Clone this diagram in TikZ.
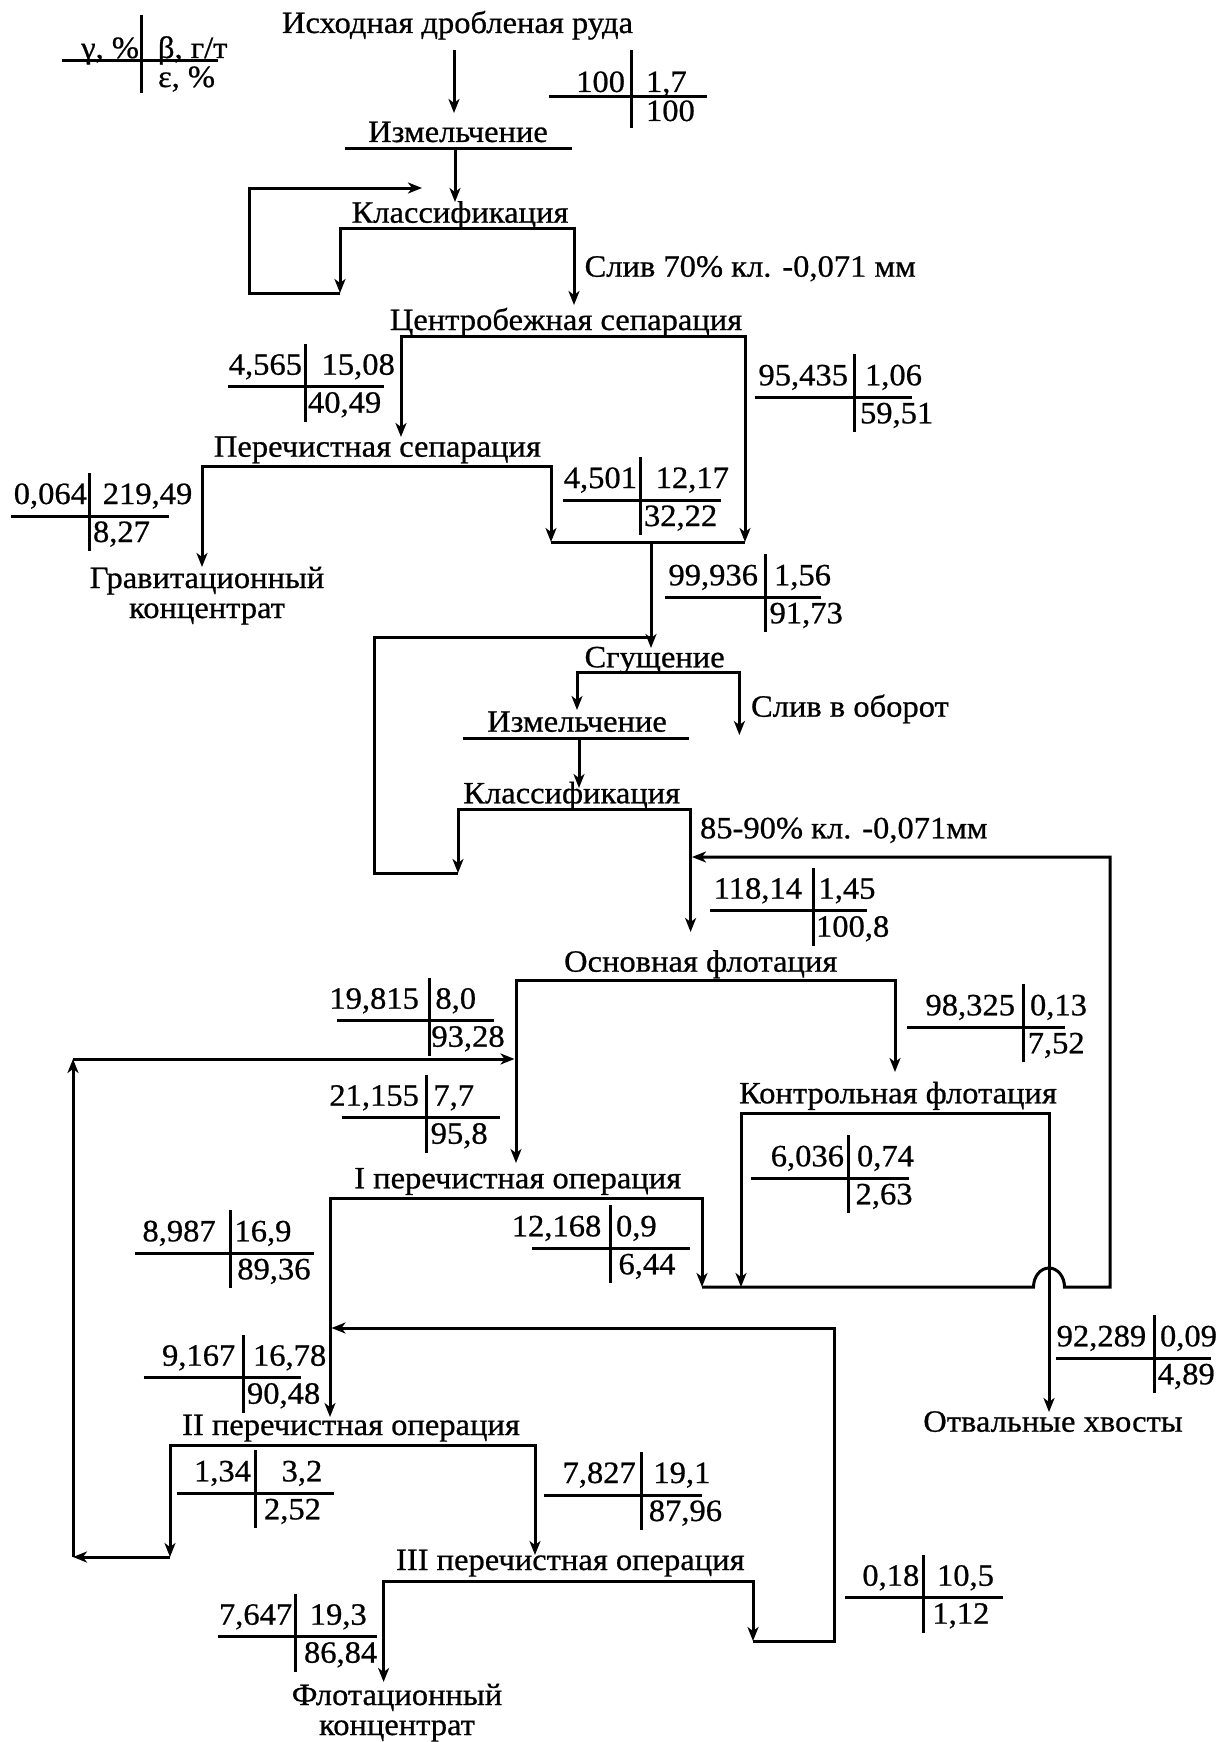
\documentclass[tikz,border=0pt]{standalone}
\usepackage{fontspec}
\setmainfont{Liberation Serif}[FakeStretch=1.05,FakeBold=0.7]
\usetikzlibrary{arrows.meta}
\tikzset{
  ln/.style={line width=3pt},
  flow/.style={ln,-{Stealth[length=14pt,width=11pt,inset=4pt]}},
  both/.style={ln,{Stealth[length=14pt,width=11pt,inset=4pt]}-{Stealth[length=14pt,width=11pt,inset=4pt]}},
  lbl/.style={inner sep=0pt,outer sep=0pt,font=\fontsize{31}{31}\selectfont},
}
\newcounter{tbn}
\newcommand\tb[9]{\stepcounter{tbn}%
  \def\tbxv{#1}\def\tbyh{#2}\def\tbxa{#3}\def\tbxb{#4}%
  \def\tbtlx{#5}\def\tbtl{#6}\def\tbtrx{#7}\def\tbtr{#8}\def\tbbx{#9}\tbfin}
\newcommand\tbfin[1]{%
  \edef\tbname{tb\arabic{tbn}}%
  \draw[ln] (\tbxv,\tbyh-43) -- (\tbxv,\tbyh+35);
  \draw[ln] (\tbxa,\tbyh) -- (\tbxb,\tbyh);
  \node[lbl,anchor=base east] (\tbname a) at (\tbtlx,\tbyh-12) {\tbtl};
  \node[lbl,anchor=base west] (\tbname b) at (\tbtrx,\tbyh-12) {\tbtr};
  \node[lbl,anchor=base west] (\tbname c) at (\tbbx,\tbyh+26) {#1};
}
\begin{document}
\begin{tikzpicture}[x=1pt,y=-1pt,font=\fontsize{31}{31}\selectfont]
\useasboundingbox (0,0) rectangle (1229,1742);
% legend
\draw[ln] (141,15) -- (141,93);
\draw[ln] (62,61) -- (218,61);
\node[lbl,anchor=base east] (lgA) at (139,58) {γ, \%};
\node[lbl,anchor=base west] (lgB) at (158,58) {β, г/т};
\node[lbl,anchor=base west] (lgC) at (158,87) {ε, \%};
% feed table
\draw[ln] (631,50) -- (631,128);
\draw[ln] (549,96.7) -- (707,96.7);
\node[lbl,anchor=base east] (f100a) at (625,92) {100};
\node[lbl,anchor=base west] (f100b) at (646,92) {1,7};
\node[lbl,anchor=base west] (f100c) at (646,121) {100};
% labels
\node[lbl,anchor=base] (feed) at (457.5,33) {Исходная дробленая руда};
\node[lbl,anchor=base] (izm1) at (458,142) {Измельчение};
\node[lbl,anchor=base] (kl1) at (460,222.7) {Классификация};
\node[lbl,anchor=base west] (sliv1) at (584.6,276.7) {Слив 70\% кл. -0,071 мм};
\node[lbl,anchor=base] (cs) at (566,330) {Центробежная сепарация};
\node[lbl,anchor=base] (ps) at (377.4,456.7) {Перечистная сепарация};
\node[lbl,anchor=base] (gk1) at (207,588) {Гравитационный};
\node[lbl,anchor=base] (gk2) at (207,618) {концентрат};
\node[lbl,anchor=base] (sg) at (654.6,667.3) {Сгущение};
\node[lbl,anchor=base west] (sliv2) at (751,716.7) {Слив в оборот};
\node[lbl,anchor=base] (izm2) at (577,731.7) {Измельчение};
\node[lbl,anchor=base] (kl2) at (571.7,803.3) {Классификация};
\node[lbl,anchor=base west] (cls) at (700,838.3) {85-90\% кл. -0,071мм};
\node[lbl,anchor=base] (of) at (700.7,971.7) {Основная флотация};
\node[lbl,anchor=base] (kf) at (898,1103.3) {Контрольная флотация};
\node[lbl,anchor=base] (p1) at (517.7,1188.3) {I перечистная операция};
\node[lbl,anchor=base] (p2) at (351,1435) {II перечистная операция};
\node[lbl,anchor=base] (p3) at (570.3,1570) {III перечистная операция};
\node[lbl,anchor=base] (tail) at (1053,1431.7) {Отвальные хвосты};
\node[lbl,anchor=base] (fk1) at (397,1705) {Флотационный};
\node[lbl,anchor=base] (fk2) at (397,1735) {концентрат};
% tables
\tb{305}{386.7}{227.5}{384}{302}{4,565}{321.6}{15,08}{308}{40,49}
\tb{854}{397.3}{754.8}{912}{848}{95,435}{865}{1,06}{860}{59,51}
\tb{89.4}{516}{11}{168.6}{87}{0,064}{102.8}{219,49}{93}{8,27}
\tb{640.9}{500}{562.8}{720.8}{637}{4,501}{655.7}{12,17}{644}{32,22}
\tb{765}{597.3}{665}{820.8}{758}{99,936}{774}{1,56}{769.6}{91,73}
\tb{813.8}{910.7}{710}{867}{802}{118,14}{818.5}{1,45}{816}{100,8}
\tb{429.5}{1020.7}{336.5}{494}{418.9}{19,815}{435.4}{8,0}{431.4}{93,28}
\tb{426.7}{1117.7}{342}{500}{418.9}{21,155}{433.4}{7,7}{430.7}{95,8}
\tb{1023}{1027.3}{906.8}{1064.8}{1015}{98,325}{1030}{0,13}{1027.7}{7,52}
\tb{848.7}{1178.3}{751}{909}{844}{6,036}{857}{0,74}{855.6}{2,63}
\tb{610.2}{1248.3}{531.6}{689.7}{601.3}{12,168}{616}{0,9}{618.5}{6,44}
\tb{230.2}{1253.3}{134.5}{313.8}{215.7}{8,987}{234.5}{16,9}{237.3}{89,36}
\tb{243.2}{1377.7}{143.5}{301.2}{235.3}{9,167}{253}{16,78}{247}{90,48}
\tb{255}{1493.3}{176.5}{334}{251}{1,34}{281.6}{3,2}{264}{2,52}
\tb{641.8}{1495}{544.2}{702.2}{635.8}{7,827}{653.4}{19,1}{648.8}{87,96}
\tb{923}{1597.7}{845}{1003}{919.3}{0,18}{937}{10,5}{932.4}{1,12}
\tb{295}{1636.7}{217.7}{376.5}{292.2}{7,647}{309.8}{19,3}{304}{86,84}
\tb{1154}{1358.3}{1055.6}{1211.3}{1146.2}{92,289}{1160}{0,09}{1157.8}{4,89}
% coordinates
\coordinate (feedS) at (454,50);
\coordinate (izm1T) at (454,113);
\coordinate (izm1L) at (345,148); \coordinate (izm1R) at (572,148);
\coordinate (izm1S) at (455,148); \coordinate (kl1T) at (455,202);
\coordinate (kl1L) at (340,228); \coordinate (kl1R) at (574,228);
\coordinate (kl1B) at (340,293);
\coordinate (loop1a) at (249,293); \coordinate (loop1b) at (249,188); \coordinate (loop1c) at (422,188);
\coordinate (csT) at (574,305);
\coordinate (csL) at (401,336); \coordinate (csR) at (745,336);
\coordinate (psT) at (401,437);
\coordinate (mgR) at (745,542);
\coordinate (psL) at (202,466); \coordinate (psR) at (551,466);
\coordinate (gkT) at (202,567);
\coordinate (mgL) at (551,542); \coordinate (mgM) at (651,542);
\coordinate (sgT) at (651,648);
\coordinate (loop2j) at (651,637); \coordinate (loop2a) at (374.5,637);
\coordinate (loop2b) at (374.5,873); \coordinate (kl2B) at (458,873);
\coordinate (sgL) at (577,672); \coordinate (sgR) at (739.4,672);
\coordinate (izm2T) at (577,710); \coordinate (slivT) at (739.4,735);
\coordinate (izm2L) at (463,738); \coordinate (izm2R) at (689,738);
\coordinate (izm2S) at (579,738); \coordinate (kl2T) at (579,788);
\coordinate (kl2L) at (458,809); \coordinate (kl2R) at (690.6,809);
\coordinate (ofT) at (690.6,932);
\coordinate (recJ) at (692,857); \coordinate (recC) at (1110,857); \coordinate (recD) at (1110,1287);
\coordinate (ofL) at (516,980); \coordinate (ofR) at (895,980);
\coordinate (p1T) at (516,1163); \coordinate (kfT) at (895,1072);
\coordinate (rec2J) at (514.5,1059); \coordinate (rec2a) at (73,1059); \coordinate (rec2b) at (73,1557);
\coordinate (kfL) at (741,1113); \coordinate (kfR) at (1049,1113);
\coordinate (colL) at (702,1287); \coordinate (colK) at (741,1287);
\coordinate (hopL) at (1033.5,1287);
\coordinate (tailT) at (1049,1412);
\coordinate (p1L) at (330,1198); \coordinate (p1R) at (702,1198);
\coordinate (p2T) at (330,1417);
\coordinate (rec3J) at (331.5,1328); \coordinate (rec3a) at (834,1328); \coordinate (rec3b) at (834,1641);
\coordinate (p3Rb) at (753,1641);
\coordinate (p2L) at (170,1445); \coordinate (p2R) at (535,1445);
\coordinate (p2Lb) at (170,1557);
\coordinate (p3T) at (535,1555);
\coordinate (p3L) at (383.6,1581); \coordinate (p3R) at (753,1581);
\coordinate (fkT) at (383.6,1682);
% connectors
\draw[flow] (feedS) -- (izm1T);
\draw[ln] (izm1L) -- (izm1R);
\draw[flow] (izm1S) -- (kl1T);
\draw[both] (kl1B) -- (kl1L) -- (kl1R) -- (csT);
\draw[flow] (kl1B) -- (loop1a) -- (loop1b) -- (loop1c);
\draw[both] (psT) -- (csL) -- (csR) -- (mgR);
\draw[both] (gkT) -- (psL) -- (psR) -- (mgL);
\draw[ln] (mgL) -- (mgR);
\draw[flow] (mgM) -- (sgT);
\draw[ln] (loop2j) -- (loop2a) -- (loop2b) -- (kl2B);
\draw[both] (izm2T) -- (sgL) -- (sgR) -- (slivT);
\draw[ln] (izm2L) -- (izm2R);
\draw[flow] (izm2S) -- (kl2T);
\draw[both] (kl2B) -- (kl2L) -- (kl2R) -- (ofT);
\draw[flow] (colL) -- (hopL) arc[start angle=180,end angle=0,x radius=15.5pt,y radius=19pt] -- (recD) -- (recC) -- (recJ);
\draw[both] (p1T) -- (ofL) -- (ofR) -- (kfT);
\draw[both] (p2Lb) -- (p2L) -- (p2R) -- (p3T);
\draw[flow] (p2Lb) -- (rec2b);
\draw[flow] (rec2b) -- (rec2a);
\draw[flow] (rec2a) -- (rec2J);
\draw[both] (colK) -- (kfL) -- (kfR) -- (tailT);
\draw[both] (p2T) -- (p1L) -- (p1R) -- (colL);
\draw[both] (fkT) -- (p3L) -- (p3R) -- (p3Rb);
\draw[flow] (p3Rb) -- (rec3b) -- (rec3a) -- (rec3J);
\end{tikzpicture}
\end{document}
